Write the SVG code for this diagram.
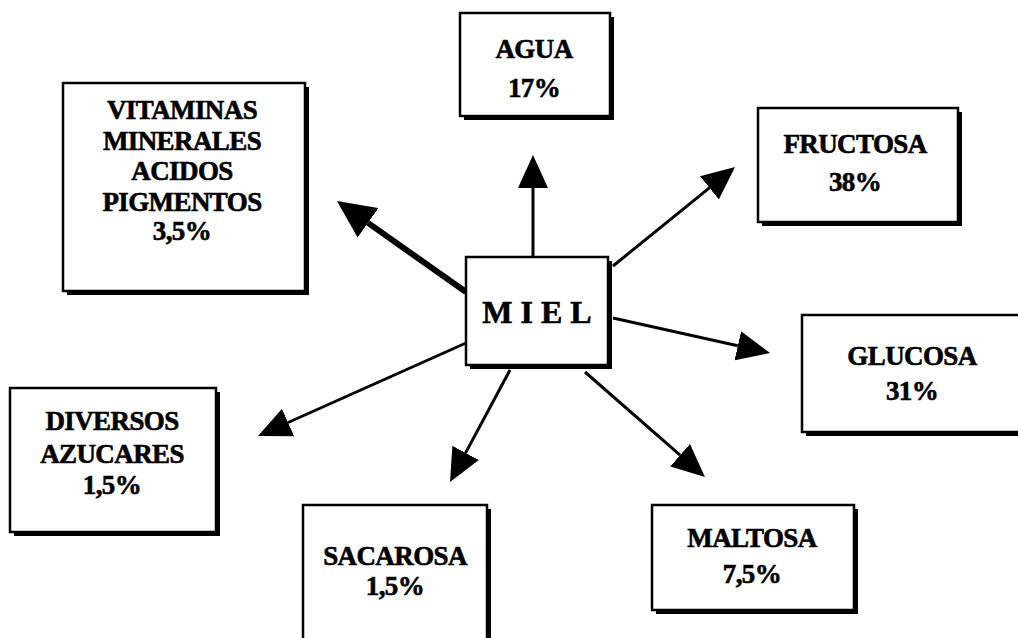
<svg xmlns="http://www.w3.org/2000/svg" width="1018" height="638" viewBox="0 0 1018 638">
<style>
.bg{fill:#fff}
.sh{fill:#000}
.box{fill:#fff;stroke:#000;stroke-width:2.5}
.t{font-family:"Liberation Serif","Times New Roman",serif;font-weight:bold;font-size:27px;fill:#000;stroke:#000;stroke-width:0.6;text-anchor:middle;letter-spacing:-0.6px}
.m{font-size:32px;letter-spacing:0}
.c{stroke:#000;stroke-width:3;fill:none}
.thick{stroke-width:6}
</style>
<defs>
<marker id="ah" viewBox="0 0 33 30" refX="0" refY="15" markerWidth="33" markerHeight="30" markerUnits="userSpaceOnUse" orient="auto">
<path d="M0,0 L33,15 L0,30 Z" fill="#000"/>
</marker>
<marker id="ahb" viewBox="0 0 38 36" refX="0" refY="18" markerWidth="38" markerHeight="36" markerUnits="userSpaceOnUse" orient="auto">
<path d="M0,0 L38,18 L0,36 Z" fill="#000"/>
</marker>
</defs>
<rect class="bg" x="0" y="0" width="1018" height="638"/>
<g id="connectors">
<line class="c" x1="533" y1="257" x2="533" y2="188" marker-end="url(#ah)"/>
<line class="c" x1="613" y1="266" x2="709.4" y2="187.8" marker-end="url(#ah)"/>
<line class="c" x1="613" y1="318" x2="737.8" y2="345.8" marker-end="url(#ah)"/>
<line class="c" x1="466" y1="343" x2="288.1" y2="422.5" marker-end="url(#ah)"/>
<line class="c" x1="510" y1="370" x2="465.6" y2="452.9" marker-end="url(#ah)"/>
<line class="c" x1="585" y1="372" x2="680.1" y2="455.2" marker-end="url(#ah)"/>
<line class="c thick" x1="466" y1="292" x2="368" y2="222.9" marker-end="url(#ahb)"/>
</g>
<g id="miel">
<rect class="sh" x="470" y="261" width="142" height="108"/>
<rect class="box" x="466" y="257" width="142" height="108"/>
<text class="t m" x="537" y="323">M I E L</text>
</g>
<g id="agua">
<rect class="sh" x="464" y="17" width="150" height="103"/>
<rect class="box" x="460" y="13" width="150" height="103"/>
<text class="t" x="534" y="58">AGUA</text>
<text class="t" x="534" y="97">17%</text>
</g>
<g id="vitaminas">
<rect class="sh" x="67" y="87" width="242" height="208"/>
<rect class="box" x="63" y="83" width="242" height="208"/>
<text class="t" x="182" y="119">VITAMINAS</text>
<text class="t" x="182" y="150">MINERALES</text>
<text class="t" x="182" y="180">ACIDOS</text>
<text class="t" x="182" y="211">PIGMENTOS</text>
<text class="t" x="182" y="240">3,5%</text>
</g>
<g id="fructosa">
<rect class="sh" x="762" y="112" width="200" height="114"/>
<rect class="box" x="758" y="108" width="200" height="114"/>
<text class="t" x="855" y="153">FRUCTOSA</text>
<text class="t" x="855" y="191">38%</text>
</g>
<g id="glucosa">
<rect class="sh" x="806" y="319" width="225" height="117"/>
<rect class="box" x="802" y="315" width="225" height="117"/>
<text class="t" x="912" y="365">GLUCOSA</text>
<text class="t" x="912" y="400">31%</text>
</g>
<g id="diversos">
<rect class="sh" x="14" y="392" width="206" height="144"/>
<rect class="box" x="10" y="388" width="206" height="144"/>
<text class="t" x="112" y="430">DIVERSOS</text>
<text class="t" x="112" y="463">AZUCARES</text>
<text class="t" x="112" y="494">1,5%</text>
</g>
<g id="sacarosa">
<rect class="sh" x="307" y="509" width="184" height="145"/>
<rect class="box" x="303" y="505" width="184" height="145"/>
<text class="t" x="395" y="565">SACAROSA</text>
<text class="t" x="395" y="595">1,5%</text>
</g>
<g id="maltosa">
<rect class="sh" x="656" y="509" width="202" height="105"/>
<rect class="box" x="652" y="505" width="202" height="105"/>
<text class="t" x="752" y="547">MALTOSA</text>
<text class="t" x="752" y="583">7,5%</text>
</g>
</svg>
